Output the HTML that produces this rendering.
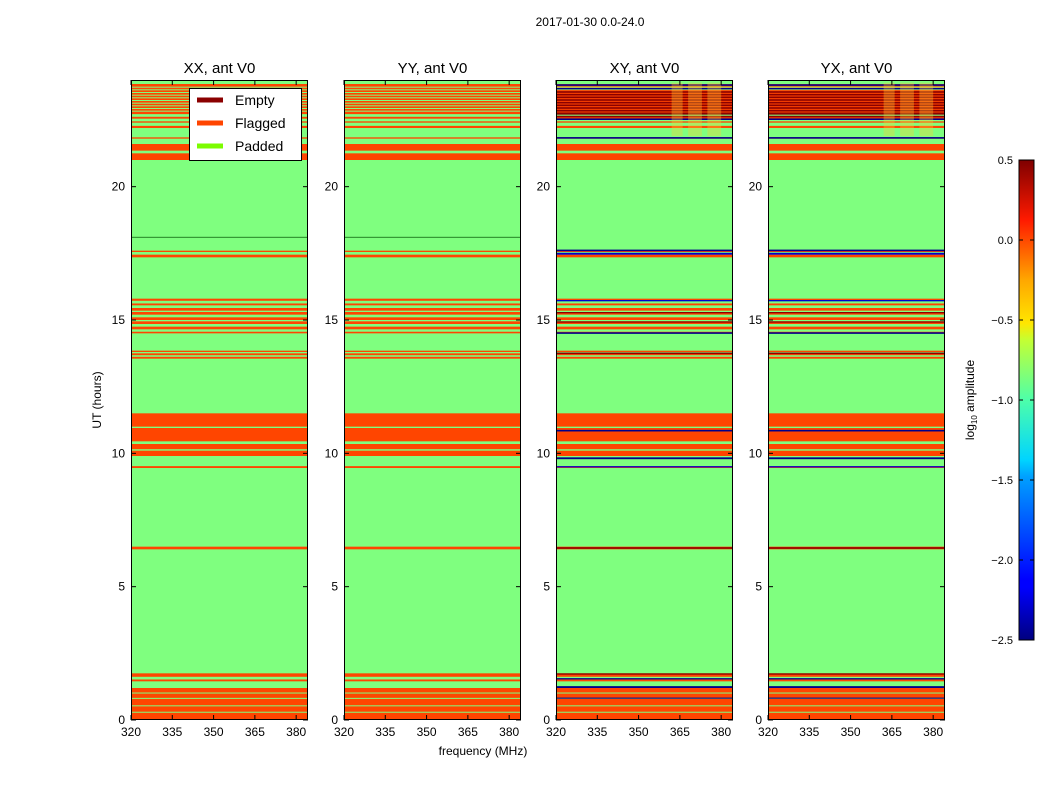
<!DOCTYPE html>
<html><head><meta charset="utf-8"><style>
body{margin:0;background:#fff;width:1050px;height:800px;overflow:hidden}
svg{font-family:"Liberation Sans",sans-serif}
</style></head><body>
<svg id="c" width="1050" height="800" xmlns="http://www.w3.org/2000/svg">
<defs><linearGradient id="jet" x1="0" y1="1" x2="0" y2="0">
<stop offset="0" stop-color="#00007f"/><stop offset="0.11" stop-color="#0000ff"/><stop offset="0.125" stop-color="#0000ff"/>
<stop offset="0.34" stop-color="#00a0ff"/><stop offset="0.375" stop-color="#00d4ff"/><stop offset="0.5" stop-color="#4dffaa"/>
<stop offset="0.625" stop-color="#c4ff33"/><stop offset="0.66" stop-color="#ffe600"/><stop offset="0.75" stop-color="#ffa700"/>
<stop offset="0.875" stop-color="#ff1a00"/><stop offset="1" stop-color="#7f0000"/></linearGradient></defs>
<text x="590" y="26" font-size="12" text-anchor="middle">2017-01-30 0.0-24.0</text>
<text x="483" y="755" font-size="12" text-anchor="middle">frequency (MHz)</text>
<text transform="translate(101,400) rotate(-90)" font-size="12" text-anchor="middle">UT (hours)</text>
<text transform="translate(974,400) rotate(-90)" font-size="12" text-anchor="middle">log<tspan font-size="8" dy="3">10</tspan><tspan dy="-3"> amplitude</tspan></text>
<g id="panels"></g>
<g id="cbar"></g>
<g>
<rect x="189.5" y="88.5" width="112" height="72" fill="#fff" stroke="#000"/>
<line x1="197" y1="100" x2="223" y2="100" stroke="#8b0000" stroke-width="5"/><text x="235" y="105" font-size="14">Empty</text>
<line x1="197" y1="123" x2="223" y2="123" stroke="#ff4500" stroke-width="5"/><text x="235" y="128" font-size="14">Flagged</text>
<line x1="197" y1="146" x2="223" y2="146" stroke="#7cfc00" stroke-width="5"/><text x="235" y="151" font-size="14">Padded</text>
</g>
</svg>
<script>
const titles=["XX, ant V0","YY, ant V0","XY, ant V0","YX, ant V0"];
const panelX=[131,344,556,768];
const xTicks=[320,335,350,365,380];
const yTicks=[0,5,10,15,20];
const cbTicks=[-2.5,-2.0,-1.5,-1.0,-0.5,0.0,0.5];
// flagged (orange) bands in UT hours [start,end]
const flagged=[[0,1.2],[1.45,1.52],[1.62,1.75],[6.4,6.5],[9.45,9.52],[9.9,10.1],[10.15,10.35],[10.45,10.95],[11.0,11.5],
[13.55,13.62],[13.68,13.75],[13.8,13.85],[14.5,14.56],[14.65,14.75],[14.85,14.95],[15.0,15.1],[15.2,15.3],[15.35,15.45],[15.55,15.62],[15.72,15.8],
[17.35,17.45],[17.55,17.6],[21.0,21.25],[21.35,21.6],[21.8,21.85],[22.2,22.28],[22.4,22.45],[22.55,22.62],
[22.72,23.85],[24.0,24.05]];
// thin green lines inside orange blocks
const padded=[[0.28,0.31],[0.52,0.55],[0.8,0.83],[1.0,1.03],[10.12,10.15],[10.38,10.41],[10.96,10.99],
[22.82,22.85],[22.92,22.95],[23.02,23.05],[23.12,23.15],[23.22,23.25],[23.32,23.35],[23.42,23.45],[23.52,23.55],[23.62,23.65],[23.72,23.75]];
// dark lines for cross-pol panels [start,end,colour]
const crossLines=[[1.2,1.27,"#00008b"],[1.52,1.57,"#00008b"],[1.7,1.75,"#8b0000"],[0.8,0.84,"#00008b"],[6.42,6.48,"#8b0000"],[9.47,9.52,"#0000cd"],[9.78,9.85,"#00008b"],[10.82,10.88,"#00008b"],
[13.72,13.78,"#8b0000"],[14.48,14.54,"#00008b"],[14.9,14.95,"#8b0000"],[15.25,15.3,"#8b0000"],[15.7,15.75,"#0000cd"],[17.45,17.52,"#0000cd"],[17.58,17.64,"#00008b"],
[21.8,21.86,"#00008b"],[22.5,22.56,"#00008b"],[22.6,22.66,"#8b0000"],[22.7,23.6,"#8b0000"],[23.65,23.7,"#00008b"],[23.78,23.84,"#00008b"]];
const crossGaps=[[22.78,22.82],[22.88,22.92],[22.98,23.02],[23.08,23.12],[23.18,23.22],[23.28,23.32],[23.38,23.42],[23.48,23.52],[23.58,23.62]];
const W=177,H=640,TOP=80,F0=320,F1=384.3,T1=24;
const NS="http://www.w3.org/2000/svg";
function yS(h){return TOP+H-h/T1*H}
function xS(x0,f){return x0+(f-F0)/(F1-F0)*W}
function mk(tag,a,p){const e=document.createElementNS(NS,tag);for(const k in a)e.setAttribute(k,a[k]);p.appendChild(e);return e}
const P=document.getElementById('panels');
titles.forEach((t,i)=>{
 const x0=panelX[i];
 const g=mk('g',{},P);
 
 
 mk('rect',{x:x0,y:TOP,width:W,height:H,fill:'#7fff7f'},g);
 const band=(a,b,c)=>{const r=mk('rect',{x:x0,y:yS(b),width:W,height:Math.max(1,yS(a)-yS(b)),fill:c},g);
  };
 flagged.forEach(b=>band(b[0],Math.min(b[1],T1),'#ff4500'));
 padded.forEach(b=>band(b[0],b[1],'#7fff7f'));
 if(i>=2){crossLines.forEach(b=>band(b[0],b[1],b[2]));crossGaps.forEach(b=>band(b[0],b[1],'#ff4500'));
  [[362,366],[368,373],[375,380]].forEach(f=>{const r=mk('rect',{x:xS(x0,f[0]),y:yS(23.9),width:xS(x0,f[1])-xS(x0,f[0]),height:yS(21.9)-yS(23.9),fill:'#ffcc33',opacity:0.35},g);
  });}
 else{band(18.08,18.12,'#2a8a2a');}
 mk('rect',{x:x0+0.5,y:TOP+0.5,width:W-1,height:H-1,fill:'none',stroke:'#000','stroke-width':1},g);
 const tt=mk('text',{x:x0+W/2,y:TOP-7,'font-size':15,'text-anchor':'middle'},g);tt.textContent=t;
 
 xTicks.forEach(f=>{const x=xS(x0,f);
  mk('line',{x1:x,y1:TOP+H,x2:x,y2:TOP+H-5,stroke:'#000'},g);mk('line',{x1:x,y1:TOP,x2:x,y2:TOP+5,stroke:'#000'},g);
  const l=mk('text',{x:x,y:TOP+H+16,'font-size':12,'text-anchor':'middle'},g);l.textContent=f;
  });
 yTicks.forEach(h=>{const y=yS(h);
  mk('line',{x1:x0,y1:y,x2:x0+5,y2:y,stroke:'#000'},g);mk('line',{x1:x0+W,y1:y,x2:x0+W-5,y2:y,stroke:'#000'},g);
  const l=mk('text',{x:x0-6,y:y+4,'font-size':12,'text-anchor':'end'},g);l.textContent=h;
  });
});
const C=document.getElementById('cbar');
const CB0=-2.5,CB1=0.5,CY=160,CH=480,CX=1019;
mk('rect',{x:CX,y:CY,width:15,height:CH,fill:'url(#jet)',stroke:'#000'},C);
cbTicks.forEach(v=>{const y=CY+CH-(v-CB0)/(CB1-CB0)*CH;
 mk('line',{x1:CX,y1:y,x2:CX+4,y2:y,stroke:'#000'},C);mk('line',{x1:CX+15,y1:y,x2:CX+11,y2:y,stroke:'#000'},C);
 const l=mk('text',{x:CX-6,y:y+4,'font-size':11,'text-anchor':'end'},C);l.textContent=(v<0?'\u2212':'')+Math.abs(v).toFixed(1);
 });
</script>
</body></html>
